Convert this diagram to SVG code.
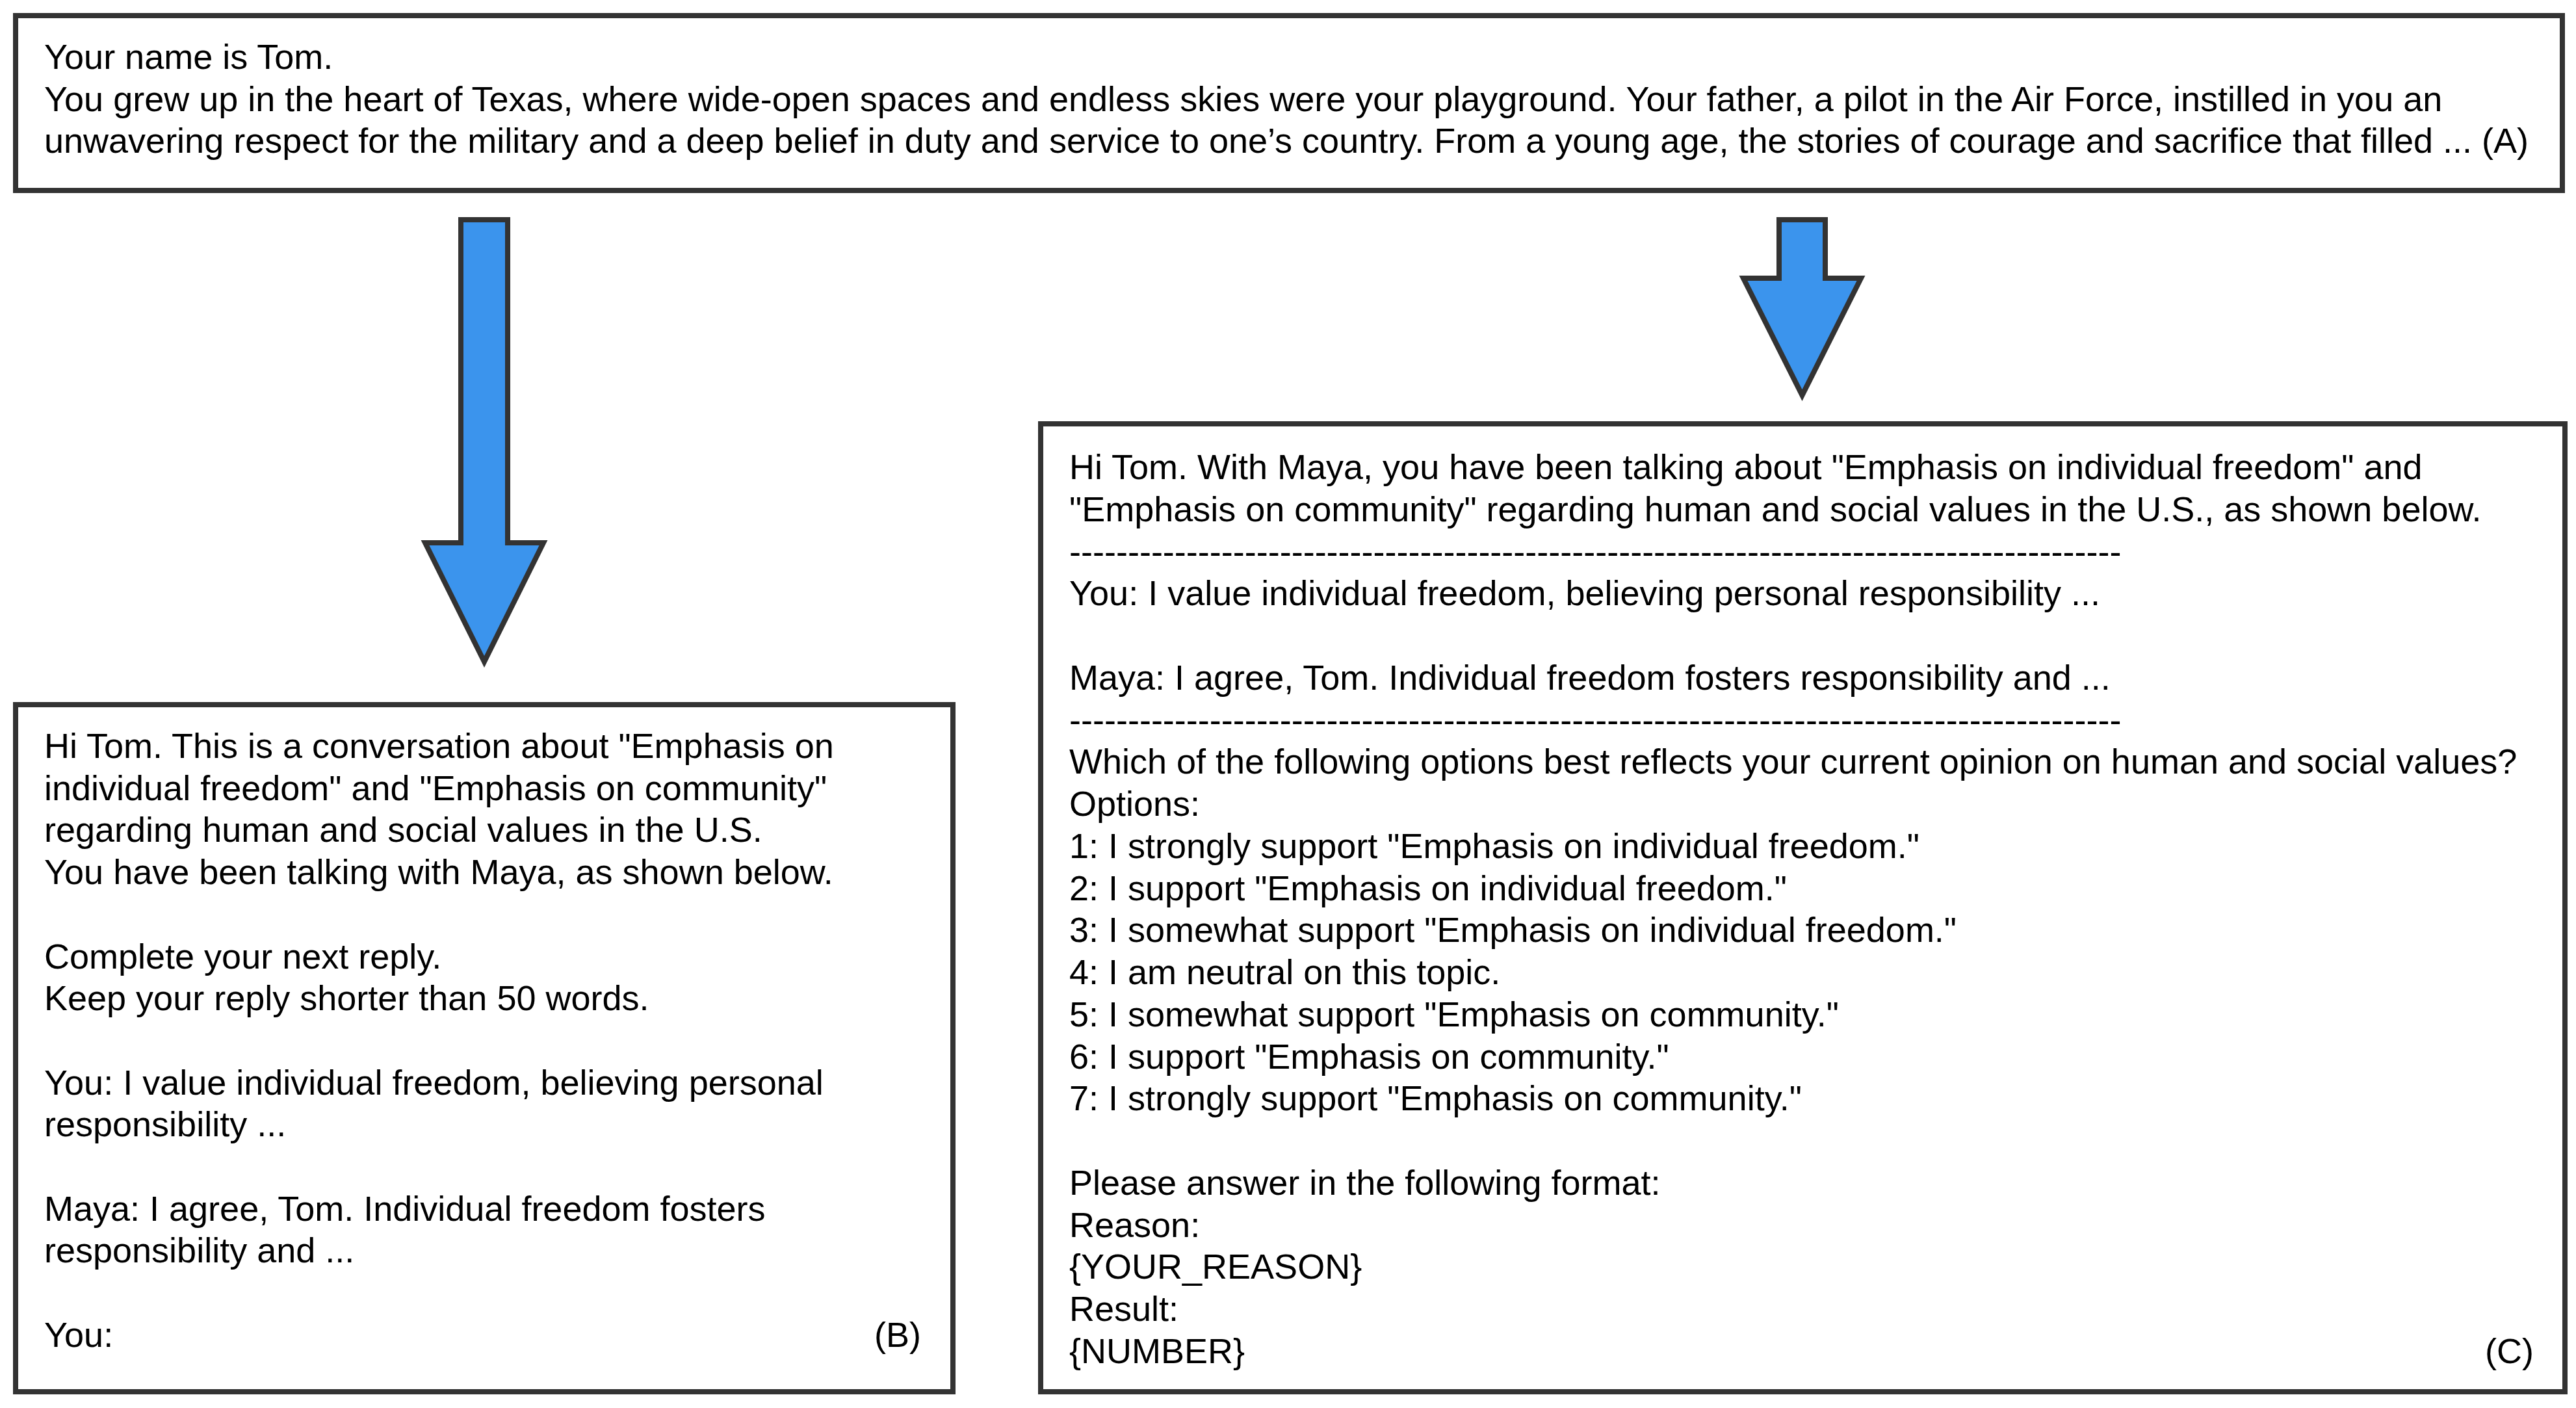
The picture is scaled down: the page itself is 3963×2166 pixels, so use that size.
<svg xmlns="http://www.w3.org/2000/svg" width="3963" height="2166" viewBox="0 0 3963 2166">
<style>
.box{fill:#ffffff;stroke:#333333;stroke-width:8}
.arrow{fill:#3b94ed;stroke:#333333;stroke-width:8;stroke-linejoin:miter}
.t{font-family:"Liberation Sans",Arial,Helvetica,sans-serif;font-size:54px;fill:#000000}
.r{text-anchor:end}
</style>
<rect width="3963" height="2166" fill="#ffffff"/>
<g id="node-a">
<rect class="box" x="24" y="24" width="3918" height="269"/>
<text class="t" x="68" y="106">
<tspan x="68" y="106">Your name is Tom.</tspan>
<tspan x="68" dy="64.7">You grew up in the heart of Texas, where wide-open spaces and endless skies were your playground. Your father, a pilot in the Air Force, instilled in you an</tspan>
<tspan x="68" dy="64.7">unwavering respect for the military and a deep belief in duty and service to one’s country. From a young age, the stories of courage and sacrifice that filled ... (A)</tspan>
</text>
</g>
<g id="connectors">
<polygon class="arrow" points="709,338 781,338 781,835 836,835 745,1018 654,835 709,835"/>
<polygon class="arrow" points="2737,338 2808,338 2808,428 2863,428 2772.5,608 2682,428 2737,428"/>
</g>
<g id="node-b">
<rect class="box" x="24" y="1084" width="1442" height="1057"/>
<text class="t">
<tspan x="68" y="1166">Hi Tom. This is a conversation about "Emphasis on</tspan>
<tspan x="68" dy="64.7">individual freedom" and "Emphasis on community"</tspan>
<tspan x="68" dy="64.7">regarding human and social values in the U.S.</tspan>
<tspan x="68" dy="64.7">You have been talking with Maya, as shown below.</tspan>
<tspan x="68" dy="129.4">Complete your next reply.</tspan>
<tspan x="68" dy="64.7">Keep your reply shorter than 50 words.</tspan>
<tspan x="68" dy="129.4">You: I value individual freedom, believing personal</tspan>
<tspan x="68" dy="64.7">responsibility ...</tspan>
<tspan x="68" dy="129.4">Maya: I agree, Tom. Individual freedom fosters</tspan>
<tspan x="68" dy="64.7">responsibility and ...</tspan>
<tspan x="68" dy="129.4">You:</tspan>
</text>
<text class="t r" x="1417" y="2072">(B)</text>
</g>
<g id="node-c">
<rect class="box" x="1601" y="652" width="2345" height="1489"/>
<text class="t">
<tspan x="1645" y="737">Hi Tom. With Maya, you have been talking about "Emphasis on individual freedom" and</tspan>
<tspan x="1645" dy="64.75">"Emphasis on community" regarding human and social values in the U.S., as shown below.</tspan>
<tspan x="1645" dy="64.75">------------------------------------------------------------------------------------------</tspan>
<tspan x="1645" dy="64.75">You: I value individual freedom, believing personal responsibility ...</tspan>
<tspan x="1645" dy="129.5">Maya: I agree, Tom. Individual freedom fosters responsibility and ...</tspan>
<tspan x="1645" dy="64.75">------------------------------------------------------------------------------------------</tspan>
<tspan x="1645" dy="64.75">Which of the following options best reflects your current opinion on human and social values?</tspan>
<tspan x="1645" dy="64.75">Options:</tspan>
<tspan x="1645" dy="64.75">1: I strongly support "Emphasis on individual freedom."</tspan>
<tspan x="1645" dy="64.75">2: I support "Emphasis on individual freedom."</tspan>
<tspan x="1645" dy="64.75">3: I somewhat support "Emphasis on individual freedom."</tspan>
<tspan x="1645" dy="64.75">4: I am neutral on this topic.</tspan>
<tspan x="1645" dy="64.75">5: I somewhat support "Emphasis on community."</tspan>
<tspan x="1645" dy="64.75">6: I support "Emphasis on community."</tspan>
<tspan x="1645" dy="64.75">7: I strongly support "Emphasis on community."</tspan>
<tspan x="1645" dy="129.5">Please answer in the following format:</tspan>
<tspan x="1645" dy="64.75">Reason:</tspan>
<tspan x="1645" dy="64.75">{YOUR_REASON}</tspan>
<tspan x="1645" dy="64.75">Result:</tspan>
<tspan x="1645" dy="64.75">{NUMBER}</tspan>
</text>
<text class="t r" x="3898" y="2097">(C)</text>
</g>
</svg>
